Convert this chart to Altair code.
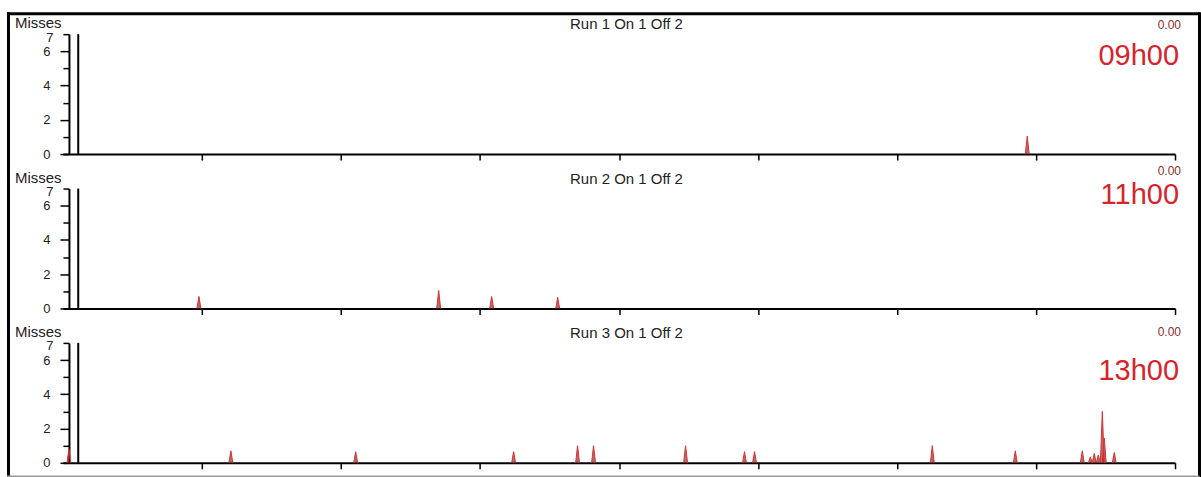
import altair as alt
import pandas as pd

# ---- data ----
runs = ["Run 1 On 1 Off 2", "Run 2 On 1 Off 2", "Run 3 On 1 Off 2"]
times = ["09h00", "11h00", "13h00"]
totals = ["0.00", "0.00", "0.00"]
marker_x = [0.11, 0.11, 0.11]

spike_x_1 = [6.937]
spike_h_1 = [1.05]

spike_x_2 = [0.978, 2.703, 3.084, 3.559]
spike_h_2 = [0.7, 1.05, 0.7, 0.65]

spike_x_3 = [0.043, 1.208, 2.106, 3.242, 3.702, 3.817, 4.479, 4.903, 4.975,
             6.254, 6.851, 7.333, 7.391, 7.419, 7.448, 7.477, 7.491, 7.563]
spike_h_3 = [0.8, 0.7, 0.65, 0.65, 1.0, 1.0, 1.0, 0.65, 0.65,
             1.0, 0.7, 0.7, 0.35, 0.55, 0.45, 3.0, 1.45, 0.6]

x_ticks = [1, 2, 3, 4, 5, 6, 7, 8]
y_ticks = [0, 1, 2, 3, 4, 5, 6, 7]

# ---- layout / style ----
W, H = 1113, 120
FONT = "Liberation Sans"
RED = "#d8232a"
time_y = [31, 15, 37]
total_y = [-5, -14, -7]

def panel(i, xs, hs):
    rows = []
    for k, (x, h) in enumerate(zip(xs, hs)):
        rows += [
            {"id": k, "x": x - 0.014, "v": 0.0},
            {"id": k, "x": x, "v": h},
            {"id": k, "x": x + 0.014, "v": 0.0},
        ]
    df = pd.DataFrame(rows)
    xsc = alt.Scale(domain=[0, 8], nice=False, zero=False)
    ysc = alt.Scale(domain=[0, 7], nice=False, zero=False)
    xaxis = alt.Axis(values=x_ticks, labels=False, title=None, grid=False,
                     domainColor="black", domainWidth=2, tickColor="black",
                     tickSize=6, tickWidth=1.5)
    yaxis = alt.Axis(values=y_ticks, title=None, grid=False,
                     labelExpr="(datum.value == 1 || datum.value == 3 || datum.value == 5) ? '' : datum.label",
                     labelOverlap=False, labelFlush=False, labelBound=False,
                     labelOffset={"condition": {"test": "datum.value == 7", "value": 3}, "value": 0},
                     tickSize={"condition": {"test": "datum.value % 2 == 1", "value": 6}, "value": 9},
                     domainColor="black", domainWidth=2, tickColor="black",
                     tickWidth=1.5, offset=-6, labelPadding=10,
                     labelFont=FONT, labelFontSize=13, labelColor="#222")

    spikes = alt.Chart(df).mark_area(
        color="#8e1a1a", opacity=0.65,
        line={"color": "#d83030", "strokeWidth": 1}
    ).encode(
        x=alt.X("x:Q", scale=xsc, axis=xaxis),
        y=alt.Y("v:Q", scale=ysc, axis=yaxis, stack=None),
        detail="id:N",
    )

    mk = pd.DataFrame({"x": [marker_x[i]], "y0": [0], "y1": [7]})
    marker = alt.Chart(mk).mark_rule(color="black", strokeWidth=2).encode(
        x=alt.X("x:Q", scale=xsc, axis=xaxis),
        y=alt.Y("y0:Q", scale=ysc, axis=yaxis),
        y2="y1:Q",
    )

    lab = pd.DataFrame({"run": [runs[i]], "time": [times[i]], "total": [totals[i]], "m": ["Misses"]})
    base = alt.Chart(lab)
    title = base.mark_text(font=FONT, fontSize=15, color="#222", align="center", baseline="alphabetic").encode(
        text="run:N", x=alt.value(564), y=alt.value(-5))
    misses = base.mark_text(font=FONT, fontSize=15, color="#222", align="left", baseline="alphabetic").encode(
        text="m:N", x=alt.value(-48), y=alt.value(-6))
    total = base.mark_text(font=FONT, fontSize=12, color="#8a3030", align="right", baseline="alphabetic").encode(
        text="total:N", x=alt.value(W + 6), y=alt.value(total_y[i]))
    tlabel = base.mark_text(font=FONT, fontSize=29, color=RED, align="right", baseline="alphabetic").encode(
        text="time:N", x=alt.value(W + 4), y=alt.value(time_y[i]))

    layers = [spikes, marker, title, misses, total, tlabel]

    if i == 0:
        frame = alt.Chart(lab)
        top = frame.mark_rule(color="black", strokeWidth=3).encode(
            x=alt.value(-56), x2=alt.value(1137.5), y=alt.value(-20.5))
        left = frame.mark_rule(color="black", strokeWidth=3).encode(
            x=alt.value(-54.5), y=alt.value(-22), y2=alt.value(444))
        right = frame.mark_rule(color="black", strokeWidth=3).encode(
            x=alt.value(1137.5), y=alt.value(-22), y2=alt.value(444))
        bottom = frame.mark_rule(color="#999", strokeWidth=1.5).encode(
            x=alt.value(-56), x2=alt.value(1137.5), y=alt.value(442.5))
        layers += [top, left, right, bottom]

    return alt.layer(*layers).properties(width=W, height=H)

chart = alt.vconcat(
    panel(0, spike_x_1, spike_h_1),
    panel(1, spike_x_2, spike_h_2),
    panel(2, spike_x_3, spike_h_3),
    spacing=34.5,
    bounds="flush",
).properties(
    padding={"left": 5, "top": 10, "right": 0, "bottom": 0},
    background="white",
).configure_view(stroke=None)

chart.save("out.html", embed_options={"renderer": "svg", "actions": False})
